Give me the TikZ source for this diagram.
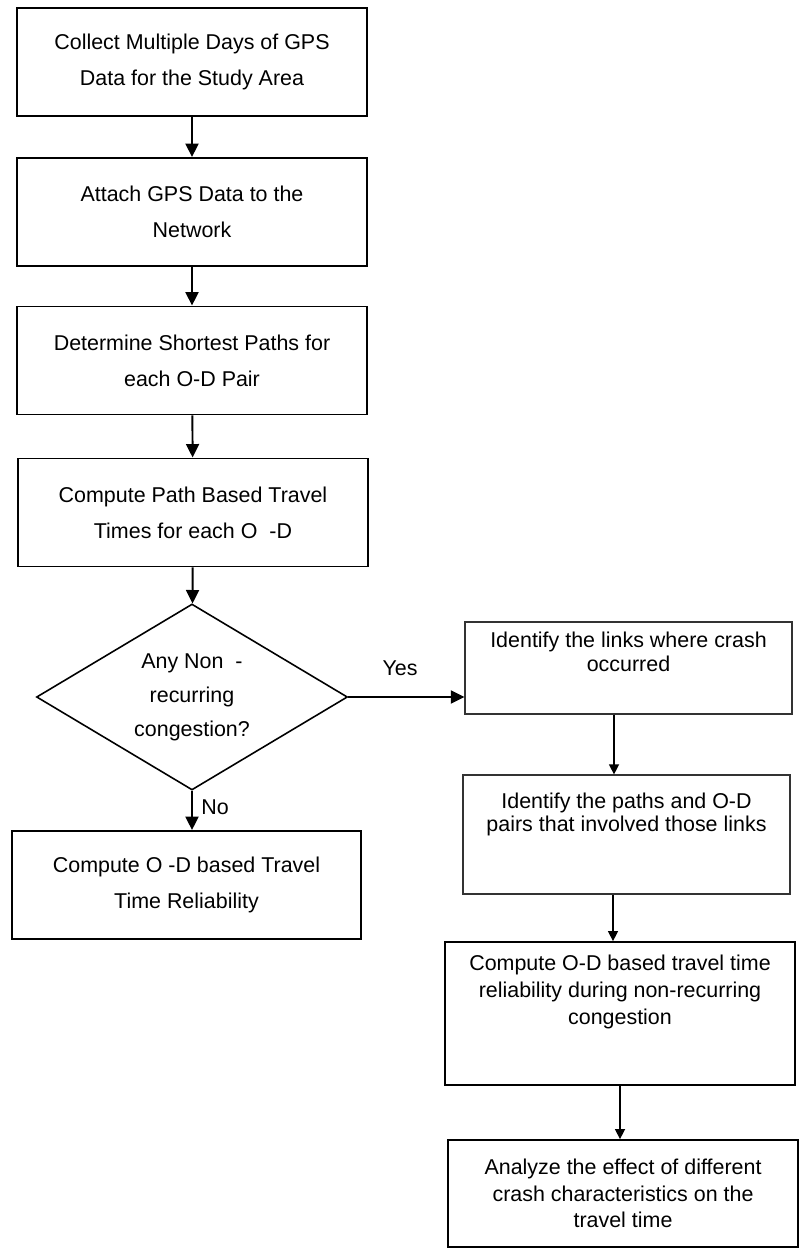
\documentclass[tikz,border=0pt]{standalone}
\usepackage{fontspec}
\setmainfont{Liberation Sans}
\usepackage{tikz}
\usetikzlibrary{positioning,arrows.meta,shapes.geometric,calc}

\begin{document}
\begin{tikzpicture}[
    lbox/.style={draw, line width=1.1pt, minimum width=7.0cm, minimum height=2.16cm, align=center, font=\fontsize{12.2}{20.5}\selectfont},
    rbox/.style={draw, line width=1pt, minimum width=7.0cm, align=center, font=\fontsize{12.2}{15.2}\selectfont},
    thinbox/.style={draw=black!80, line width=0.7pt, minimum width=6.54cm, align=center, font=\fontsize{12.2}{13.4}\selectfont},
    decision/.style={draw, diamond, shape aspect=1.67, line width=0.9pt, minimum width=6.22cm, minimum height=3.72cm, inner sep=0pt, align=center, font=\fontsize{12.2}{19.4}\selectfont},
    flow/.style={-{Triangle[length=0.27cm, width=0.26cm]}, line width=1.1pt},
    sflow/.style={-{Triangle[length=0.2cm, width=0.2cm]}, line width=0.75pt},
    lbl/.style={font=\fontsize{12.2}{14}\selectfont},
]
  \useasboundingbox (0,0) rectangle (15.98,-24.98);

  % main column
  \node[lbox] (collect) at (3.84,-1.24) {Collect Multiple Days of GPS\\Data for the Study Area};
  \node[lbox] (attach)  at (3.84,-4.24) {Attach GPS Data to the\\Network};
  \node[lbox] (paths)   at (3.84,-7.21) {Determine Shortest Paths for\\each O-D Pair};
  \node[lbox] (times)   at (3.86,-10.25) {Compute Path Based Travel\\Times for each O\ \ -D};
  \node[decision] (dec) at (3.84,-13.94) {Any Non\ \ -\\recurring\\congestion?};
  \node[lbox, minimum width=6.98cm] (ttr) at (3.73,-17.70) {Compute O -D based Travel\\Time Reliability};

  % crash branch
  \node[thinbox, minimum height=1.84cm, text depth=0.64cm] (links) at (12.57,-13.36) {Identify the links where crash\\occurred};
  \node[thinbox, minimum height=2.38cm, text depth=0.89cm] (pairs) at (12.53,-16.69) {Identify the paths and O-D\\pairs that involved those links};
  \node[rbox, minimum height=2.86cm, text depth=0.95cm] (nrc) at (12.40,-20.27) {Compute O-D based travel time\\reliability during non-recurring\\congestion};
  \node[rbox, minimum height=2.14cm] (effect) at (12.46,-23.87) {Analyze the effect of different\\crash characteristics on the\\travel time};

  \node[lbl] (yes) at (8.0,-13.36) {Yes};
  \node[lbl] (no)  at (4.30,-16.14) {No};

  \draw[flow] (collect) -- (attach);
  \draw[flow] (attach) -- (paths);
  \draw[flow] (paths) -- (times);
  \draw[flow] (times) -- (dec);
  \draw[flow] (dec.south) -- (dec.south |- ttr.north);
  \draw[flow] (dec.east) -- (dec.east -| links.west);

  \draw[sflow] ([xshift=-0.29cm]links.south) -- ([xshift=-0.29cm]links.south |- pairs.north);
  \draw[sflow] ([xshift=-0.27cm]pairs.south) -- ([xshift=-0.27cm]pairs.south |- nrc.north);
  \draw[sflow] (nrc.south) -- (nrc.south |- effect.north);
\end{tikzpicture}
\end{document}
